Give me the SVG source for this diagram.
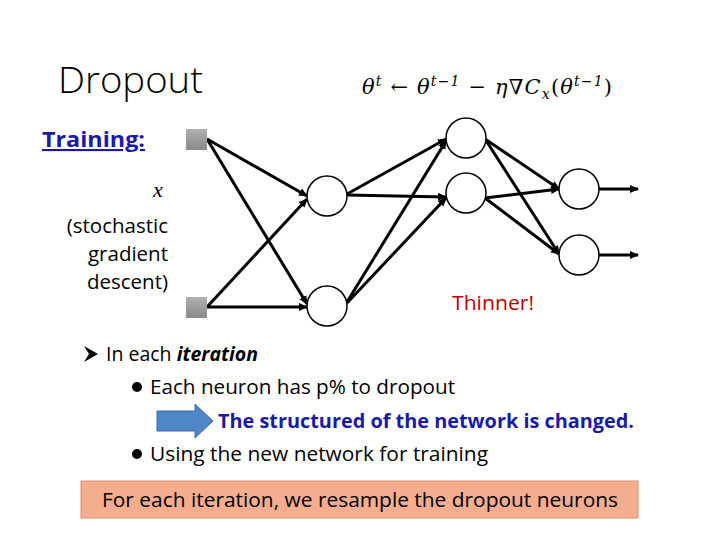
<svg xmlns="http://www.w3.org/2000/svg" width="720" height="540" viewBox="0 0 720 540">
<defs>
<marker id="ah" markerWidth="9" markerHeight="9" refX="8" refY="4.5" orient="auto" markerUnits="userSpaceOnUse"><path d="M0,0.5 L9,4.5 L0,8.5 Z" fill="#000"/></marker>
<linearGradient id="sq" x1="0" y1="0" x2="0" y2="1"><stop offset="0" stop-color="#b0b0b0"/><stop offset="1" stop-color="#8a8a8a"/></linearGradient>
</defs>
<style>
.t{font-family:"Open Sans","Liberation Sans",sans-serif;fill:#000}
.n{fill:#fff;stroke:#000;stroke-width:1.5}
.e{stroke:#000;stroke-width:3;fill:none;marker-end:url(#ah)}
.m{font-family:"DejaVu Serif","Liberation Serif",serif;font-style:italic;font-size:21px}
</style>
<rect width="720" height="540" fill="#fff"/>
<text class="t" x="58" y="93" font-size="37" font-weight="300" textLength="145" lengthAdjust="spacingAndGlyphs">Dropout</text>
<text class="m" x="362" y="94" textLength="250" lengthAdjust="spacing">θ<tspan font-size="14" dy="-8">t</tspan><tspan dy="8" font-style="normal"> ← </tspan>θ<tspan font-size="14" dy="-8">t−1</tspan><tspan dy="8" font-style="normal"> − </tspan>η∇C<tspan font-size="14" dy="5">x</tspan><tspan dy="-5" font-style="normal">(</tspan>θ<tspan font-size="14" dy="-8">t−1</tspan><tspan dy="8" font-style="normal">)</tspan></text>
<text class="t" x="42" y="147" font-size="21" font-weight="bold" style="fill:#1a1aa8" text-decoration="underline" textLength="103" lengthAdjust="spacingAndGlyphs">Training:</text>
<text x="158" y="197" font-family="Liberation Serif,serif" font-style="italic" font-size="22" text-anchor="middle">x</text>
<g class="t" font-size="20.5" text-anchor="end">
<text x="168" y="233">(stochastic</text>
<text x="168" y="261">gradient</text>
<text x="168" y="289">descent)</text>
</g>
<g id="connectors">
<path class="e" d="M207,139 L307,196"/>
<path class="e" d="M207,139 L307,304"/>
<path class="e" d="M207,307 L307,199"/>
<path class="e" d="M207,307 L307,307"/>
<path class="e" d="M347,194 L446,139"/>
<path class="e" d="M347,195 L446,197"/>
<path class="e" d="M347,302 L446,141"/>
<path class="e" d="M347,303 L446,198"/>
<path class="e" d="M485,139 L559,189"/>
<path class="e" d="M485,139 L559,254"/>
<path class="e" d="M485,198 L559,189"/>
<path class="e" d="M485,198 L559,254"/>
<path class="e" d="M599,189 L638,189"/>
<path class="e" d="M599,255 L638,255"/>
</g>
<g id="in1"><rect x="186" y="129" width="21" height="21" fill="url(#sq)"/></g>
<g id="in2"><rect x="186" y="297" width="21" height="21" fill="url(#sq)"/></g>
<g id="h1a"><circle class="n" cx="327" cy="196" r="20"/></g>
<g id="h1b"><circle class="n" cx="327" cy="306" r="20"/></g>
<g id="h2a"><circle class="n" cx="466" cy="138" r="20"/></g>
<g id="h2b"><circle class="n" cx="466" cy="193" r="20"/></g>
<g id="o1"><circle class="n" cx="579" cy="189" r="20"/></g>
<g id="o2"><circle class="n" cx="579" cy="255" r="20"/></g>
<text class="t" x="452" y="310" font-size="20" style="fill:#c00000" textLength="82" lengthAdjust="spacingAndGlyphs">Thinner!</text>
<path d="M84,346 L98,354 L84,362 L89,354 Z" fill="#000"/>
<text class="t" x="106" y="361" font-size="19.5">In each <tspan font-weight="bold" font-style="italic">iteration</tspan></text>
<circle cx="137" cy="387" r="5" fill="#000"/>
<text class="t" x="150" y="394" font-size="20" textLength="305" lengthAdjust="spacingAndGlyphs">Each neuron has p% to dropout</text>
<path d="M157,411 L195,411 L195,404 L213,421 L195,438 L195,431 L157,431 Z" fill="#4f86c6" stroke="#3a6aa5" stroke-width="1"/>
<text class="t" x="218" y="428" font-size="19" font-weight="bold" style="fill:#1a1aa8" textLength="416" lengthAdjust="spacingAndGlyphs">The structured of the network is changed.</text>
<circle cx="137" cy="454" r="5" fill="#000"/>
<text class="t" x="150" y="461" font-size="20" textLength="338" lengthAdjust="spacingAndGlyphs">Using the new network for training</text>
<rect x="81" y="481" width="557" height="37" fill="#f4ad8e" stroke="#d99070" stroke-width="1"/>
<text class="t" x="360" y="507" font-size="20" text-anchor="middle" textLength="516" lengthAdjust="spacingAndGlyphs">For each iteration, we resample the dropout neurons</text>
</svg>
